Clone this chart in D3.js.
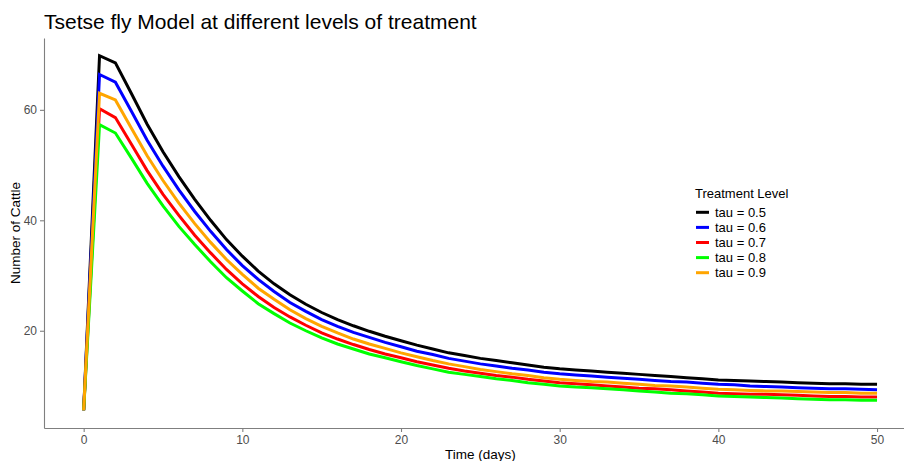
<!DOCTYPE html>
<html>
<head>
<meta charset="utf-8">
<script src="https://cdn.jsdelivr.net/npm/d3@7"></script>
<style>
  body { margin: 0; background: #fff; }
  svg { font-family: "Liberation Sans", Arial, sans-serif; }
</style>
</head>
<body>
<div id="container"></div>
<script>
var width = 904,
    height = 461;

// time axis (days)
var days = d3.range(0, 51);

// number of cattle, one array per treatment level
var tau05 = [5.6, 69.8, 68.5, 63.0, 57.4, 52.4, 47.9, 43.8, 40.0, 36.5,
             33.5, 30.8, 28.5, 26.5, 24.8, 23.3, 22.0, 20.9, 19.9, 19.0,
             18.2, 17.4, 16.7, 16.0, 15.5, 15.0, 14.6, 14.2, 13.8, 13.4,
             13.1, 12.9, 12.7, 12.5, 12.3, 12.1, 11.9, 11.7, 11.5, 11.3,
             11.1, 11.0, 10.9, 10.8, 10.7, 10.6, 10.5, 10.4, 10.4, 10.3, 10.3];
var tau06 = [5.6, 66.4, 65.0, 59.8, 54.5, 49.8, 45.5, 41.6, 38.0, 34.7,
             31.8, 29.3, 27.1, 25.1, 23.5, 22.0, 20.8, 19.7, 18.8, 17.9,
             17.1, 16.3, 15.7, 15.0, 14.5, 14.0, 13.6, 13.2, 12.9, 12.5,
             12.2, 12.0, 11.8, 11.6, 11.4, 11.2, 11.0, 10.8, 10.7, 10.5,
             10.3, 10.2, 10.0, 9.9, 9.8, 9.7, 9.6, 9.5, 9.5, 9.4, 9.3];
var tau07 = [5.6, 60.2, 58.6, 53.8, 49.0, 44.7, 40.9, 37.3, 34.1, 31.1,
             28.5, 26.2, 24.2, 22.5, 21.0, 19.6, 18.5, 17.5, 16.6, 15.8,
             15.1, 14.4, 13.8, 13.2, 12.7, 12.3, 11.9, 11.6, 11.2, 10.9,
             10.6, 10.4, 10.2, 10.0, 9.8, 9.6, 9.5, 9.3, 9.1, 8.9,
             8.7, 8.6, 8.5, 8.5, 8.4, 8.3, 8.2, 8.1, 8.1, 8.0, 8.0];
var tau08 = [5.6, 57.3, 55.8, 51.3, 46.7, 42.6, 38.9, 35.6, 32.5, 29.6,
             27.2, 24.9, 23.1, 21.4, 20.0, 18.7, 17.6, 16.7, 15.8, 15.1,
             14.4, 13.7, 13.1, 12.5, 12.1, 11.7, 11.3, 11.0, 10.6, 10.3,
             10.0, 9.8, 9.7, 9.5, 9.3, 9.1, 8.9, 8.7, 8.6, 8.4,
             8.2, 8.1, 8.0, 7.9, 7.8, 7.7, 7.6, 7.5, 7.5, 7.4, 7.4];
var tau09 = [5.6, 63.0, 61.8, 56.7, 51.7, 47.2, 43.1, 39.4, 36.0, 32.9,
             30.2, 27.7, 25.7, 23.8, 22.2, 20.8, 19.6, 18.5, 17.6, 16.8,
             16.0, 15.3, 14.6, 14.0, 13.5, 13.0, 12.6, 12.2, 11.9, 11.5,
             11.2, 11.0, 10.8, 10.7, 10.5, 10.3, 10.1, 10.0, 9.8, 9.6,
             9.4, 9.3, 9.2, 9.1, 9.1, 9.0, 8.9, 8.8, 8.8, 8.7, 8.7];

var levels = ["tau = 0.5", "tau = 0.6", "tau = 0.7", "tau = 0.8", "tau = 0.9"];
var colors = ["#000000", "#0000ff", "#ff0000", "#00ff00", "#ffa500"];
var xTicks = [0, 10, 20, 30, 40, 50];
var yTicks = [20, 40, 60];

var series = [tau05, tau06, tau07, tau08, tau09].map(function (vals, i) {
    return { level: levels[i], color: colors[i], values: vals.map(function (v, j) { return { t: days[j], v: v } }) }
})

var panel = { left: 44, top: 38, right: 916.7, bottom: 428 };

var svg = d3.select("div#container")
    .append("svg")
    .attr("width", width)
    .attr("height", height)

// ggplot-like 5% expansion
var xExt = d3.extent(days), xPad = (xExt[1] - xExt[0]) * 0.05;
var allV = [].concat(tau05, tau06, tau07, tau08, tau09);
var yExt = d3.extent(allV), yPad = (yExt[1] - yExt[0]) * 0.05;

var x = d3.scaleLinear().domain([xExt[0] - xPad, xExt[1] + xPad]).range([panel.left, panel.right])
var y = d3.scaleLinear().domain([yExt[0] - yPad, yExt[1] + yPad]).range([panel.bottom, panel.top])

var line = d3.line()
    .x(function (d) { return x(d.t) })
    .y(function (d) { return y(d.v) })

svg.selectAll(".series")
    .data(series)
    .enter().append("path")
    .attr("class", "series")
    .attr("d", function (d) { return line(d.values) })
    .attr("fill", "none")
    .attr("stroke", function (d) { return d.color })
    .attr("stroke-width", 3)
    .attr("stroke-linejoin", "miter")

//Axes
var axisColor = "#7f7f7f";
var xAxis = svg.append("g")
    .attr("transform", "translate(0," + panel.bottom + ")")
    .call(d3.axisBottom(x).tickValues(xTicks).tickSize(4).tickPadding(3).tickSizeOuter(0))
var yAxis = svg.append("g")
    .attr("transform", "translate(" + panel.left + ",0)")
    .call(d3.axisLeft(y).tickValues(yTicks).tickSize(4).tickPadding(3).tickSizeOuter(0))

;[xAxis, yAxis].forEach(function (g) {
    g.select(".domain").attr("stroke", axisColor).attr("stroke-width", 1.1)
    g.selectAll(".tick line").attr("stroke", axisColor).attr("stroke-width", 1.1)
    g.selectAll(".tick text")
        .attr("fill", "#4d4d4d")
        .style("font-size", "12px")
        .style("font-family", "Liberation Sans, Arial, sans-serif")
})

//Titles
svg.append("text")
    .attr("x", panel.left)
    .attr("y", 29)
    .style("font-size", "21px")
    .attr("fill", "#000")
    .text("Tsetse fly Model at different levels of treatment")

svg.append("text")
    .attr("x", (panel.left + panel.right) / 2)
    .attr("y", 459)
    .attr("text-anchor", "middle")
    .style("font-size", "13.5px")
    .text("Time (days)")

svg.append("text")
    .attr("transform", "translate(20," + (panel.top + panel.bottom) / 2 + ") rotate(-90)")
    .attr("text-anchor", "middle")
    .style("font-size", "13.5px")
    .text("Number of Cattle")

//Legend
var legend = svg.append("g").attr("transform", "translate(695,0)")
legend.append("text")
    .attr("x", 0)
    .attr("y", 198)
    .style("font-size", "13px")
    .text("Treatment Level")

var items = legend.selectAll(".item")
    .data(series)
    .enter().append("g")
    .attr("class", "item")
    .attr("transform", function (d, i) { return "translate(0," + (212.3 + i * 15.1) + ")" })
items.append("line")
    .attr("x1", 1).attr("x2", 14)
    .attr("stroke", function (d) { return d.color })
    .attr("stroke-width", 3)
items.append("text")
    .attr("x", 20)
    .attr("dy", "0.35em")
    .style("font-size", "13px")
    .text(function (d) { return d.level })
</script>
</body>
</html>
